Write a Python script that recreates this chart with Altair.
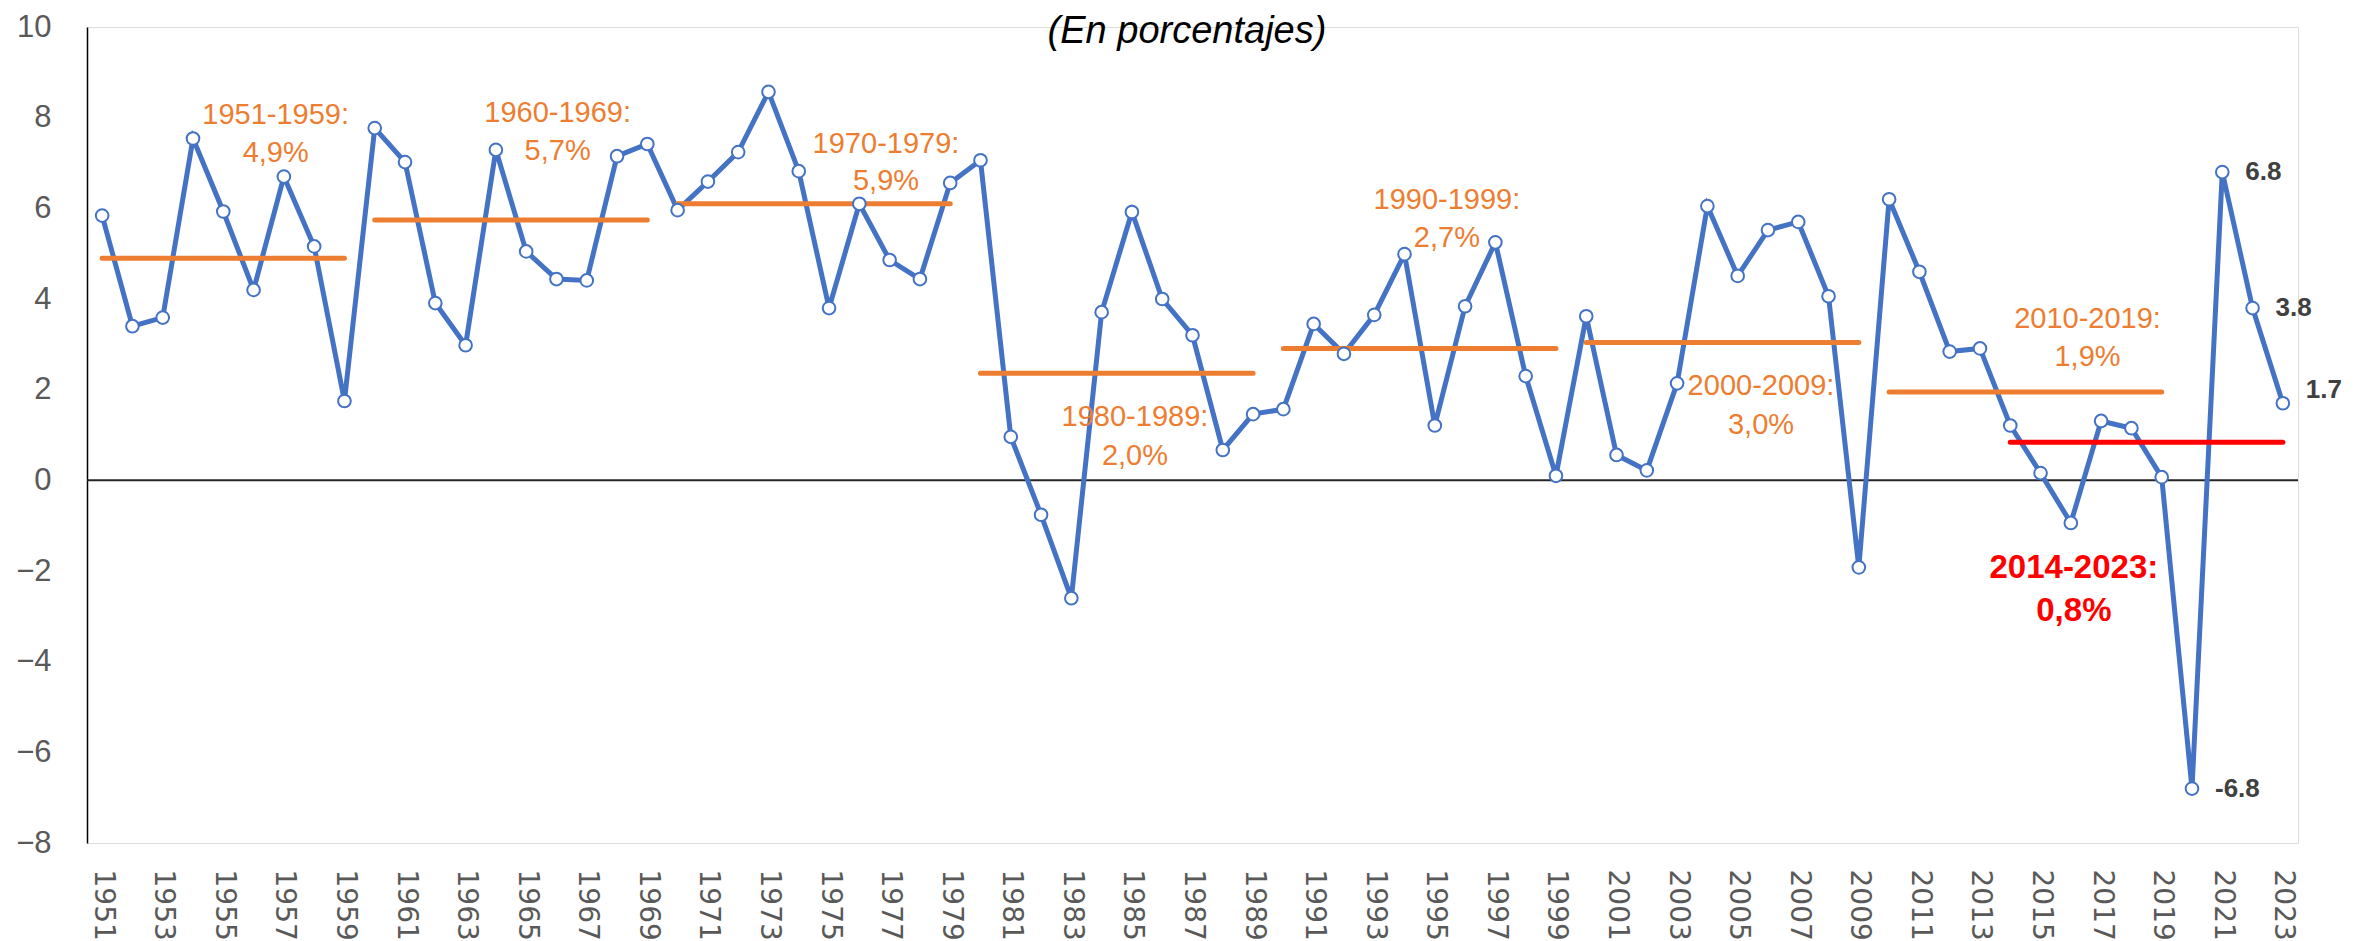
import altair as alt
import pandas as pd

years = list(range(1951, 2024))
growth = [5.84, 3.40, 3.59, 7.54, 5.93, 4.20, 6.70, 5.16, 1.75, 7.77,
          7.02, 3.91, 2.98, 7.29, 5.05, 4.44, 4.41, 7.15, 7.42, 5.96,
          6.59, 7.24, 8.57, 6.82, 3.80, 6.10, 4.86, 4.44, 6.56, 7.06,
          0.96, -0.76, -2.60, 3.71, 5.92, 4.00, 3.20, 0.67, 1.46, 1.57,
          3.45, 2.79, 3.65, 4.99, 1.21, 3.84, 5.25, 2.30, 0.10, 3.62,
          0.56, 0.22, 2.14, 6.05, 4.51, 5.52, 5.70, 4.06, -1.92, 6.20,
          4.60, 2.84, 2.91, 1.21, 0.16, -0.94, 1.31, 1.15, 0.07, -6.8,
          6.8, 3.8, 1.7]

period_start = [1951, 1960, 1970, 1980, 1990, 2000, 2010]
period_end = [1959, 1969, 1979, 1989, 1999, 2009, 2019]
period_avg = [4.9, 5.74, 6.1, 2.36, 2.91, 3.04, 1.95]
period_name = ["1951-1959:", "1960-1969:", "1970-1979:", "1980-1989:",
               "1990-1999:", "2000-2009:", "2010-2019:"]
period_pct = ["4,9%", "5,7%", "5,9%", "2,0%", "2,7%", "3,0%", "1,9%"]
period_label_year = [1956.73, 1966.04, 1976.88, 1985.1, 1995.4, 2005.77, 2016.55]
period_label_y1 = [8.06, 8.11, 7.43, 1.39, 6.18, 2.08, 3.56]
period_label_y2 = [7.22, 7.27, 6.61, 0.53, 5.35, 1.23, 2.73]

recent_start = [2014]
recent_end = [2023]
recent_avg = [0.84]
recent_name = ["2014-2023:"]
recent_pct = ["0,8%"]
recent_label_year = [2016.1]
recent_label_y1 = [-1.94]
recent_label_y2 = [-2.89]

labeled_years = [2020, 2021, 2022]
labeled_years_low = [2023]
year_ticks = list(range(1951, 2024, 2))
y_ticks = list(range(-8, 11, 2))
title_text = "(En porcentajes)"

df = pd.DataFrame({"year": years, "growth": growth})
df_per = pd.DataFrame({"start": period_start, "end": period_end, "avg": period_avg,
                       "name": period_name, "pct": period_pct,
                       "ly": period_label_year, "y1": period_label_y1, "y2": period_label_y2})
df_rec = pd.DataFrame({"start": recent_start, "end": recent_end, "avg": recent_avg,
                       "name": recent_name, "pct": recent_pct,
                       "ly": recent_label_year, "y1": recent_label_y1, "y2": recent_label_y2})
df_lab = df[df["year"].isin(labeled_years)]
df_lab_low = df[df["year"].isin(labeled_years_low)]

W, H = 2211, 816
xs = alt.Scale(domain=[1950.5, 2023.5], nice=False, zero=False)
ys = alt.Scale(domain=[-8, 10], nice=False, zero=False)

BLUE = "#4472C4"
ORANGE = "#ED7D31"

base = alt.Chart(df)

line = base.mark_line(color=BLUE, strokeWidth=5).encode(
    x=alt.X("year:Q", scale=xs, title=None,
            axis=alt.Axis(values=year_ticks, format="d", labelAngle=90,
                          labelFont="DejaVu Sans", labelFontSize=28,
                          labelColor="#595959", domain=False, ticks=False,
                          tickSize=0, labelPadding=26, grid=False,
                          labelOverlap=False, labelFlush=False, labelLimit=300)),
    y=alt.Y("growth:Q", scale=ys, title=None,
            axis=alt.Axis(values=y_ticks, labelFont="Liberation Sans",
                          labelFontSize=31, labelColor="#595959",
                          domain=True, domainColor="#000000", domainWidth=1.5,
                          ticks=False, tickSize=0, labelPadding=36, grid=False)),
)

points = base.mark_point(filled=True, fill="white", stroke=BLUE, strokeWidth=2,
                         size=160, opacity=1).encode(
    x=alt.X("year:Q", scale=xs),
    y=alt.Y("growth:Q", scale=ys),
)

zero = alt.Chart(pd.DataFrame({"z": [0]})).mark_rule(color="#262626", strokeWidth=2).encode(
    y=alt.Y("z:Q", scale=ys)
)

per_lines = alt.Chart(df_per).mark_rule(color=ORANGE, strokeWidth=5, strokeCap="round").encode(
    x=alt.X("start:Q", scale=xs), x2="end:Q", y=alt.Y("avg:Q", scale=ys)
)
rec_line = alt.Chart(df_rec).mark_rule(color="#FF0000", strokeWidth=5, strokeCap="round").encode(
    x=alt.X("start:Q", scale=xs), x2="end:Q", y=alt.Y("avg:Q", scale=ys)
)

per_t1 = alt.Chart(df_per).mark_text(color=ORANGE, font="Liberation Sans", fontSize=29,
                                     baseline="middle", align="center").encode(
    x=alt.X("ly:Q", scale=xs), y=alt.Y("y1:Q", scale=ys), text="name:N"
)
per_t2 = alt.Chart(df_per).mark_text(color=ORANGE, font="Liberation Sans", fontSize=29,
                                     baseline="middle", align="center").encode(
    x=alt.X("ly:Q", scale=xs), y=alt.Y("y2:Q", scale=ys), text="pct:N"
)
rec_t1 = alt.Chart(df_rec).mark_text(color="#FF0000", font="Liberation Sans", fontSize=33,
                                     fontWeight="bold", baseline="middle", align="center").encode(
    x=alt.X("ly:Q", scale=xs), y=alt.Y("y1:Q", scale=ys), text="name:N"
)
rec_t2 = alt.Chart(df_rec).mark_text(color="#FF0000", font="Liberation Sans", fontSize=33,
                                     fontWeight="bold", baseline="middle", align="center").encode(
    x=alt.X("ly:Q", scale=xs), y=alt.Y("y2:Q", scale=ys), text="pct:N"
)

val_labels = alt.Chart(df_lab).transform_calculate(
    lbl="toString(datum.growth)"
).mark_text(color="#404040", font="Liberation Sans", fontSize=26,
            fontWeight="bold", align="left", baseline="middle", dx=23).encode(
    x=alt.X("year:Q", scale=xs), y=alt.Y("growth:Q", scale=ys), text="lbl:N"
)
val_labels_low = alt.Chart(df_lab_low).transform_calculate(
    lbl="toString(datum.growth)"
).mark_text(color="#404040", font="Liberation Sans", fontSize=26,
            fontWeight="bold", align="left", baseline="middle", dx=23, dy=-13).encode(
    x=alt.X("year:Q", scale=xs), y=alt.Y("growth:Q", scale=ys), text="lbl:N"
)

title = alt.Chart(pd.DataFrame({"t": [title_text]})).mark_text(
    font="Liberation Sans", fontSize=38, fontStyle="italic", color="#000000",
    align="center", baseline="alphabetic").encode(
    x=alt.value(1100), y=alt.value(16), text="t:N"
)

chart = alt.layer(
    zero, line, per_lines, rec_line, points,
    per_t1, per_t2, rec_t1, rec_t2, val_labels, val_labels_low, title
).properties(
    width=W, height=H,
    autosize=alt.AutoSizeParams(type="none"),
    padding={"left": 79, "top": 19, "right": 63, "bottom": 98},
).configure_view(stroke=None).configure(background="white")

chart.save("out.html", embed_options={"renderer": "svg", "actions": False})
